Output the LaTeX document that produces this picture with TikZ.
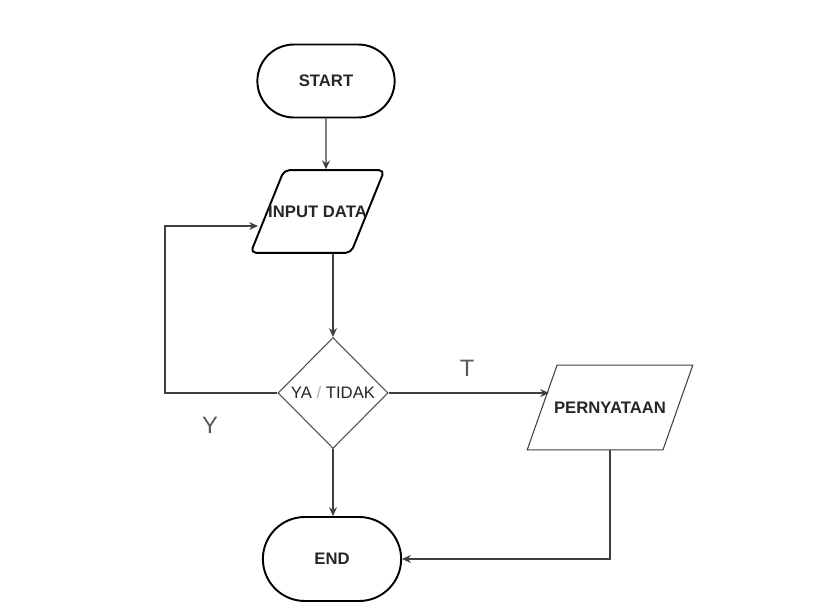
\documentclass[tikz,border=0pt]{standalone}
\usepackage{fontspec}
\setmainfont{Liberation Sans}
\usetikzlibrary{shapes.geometric,shapes.misc,arrows.meta}
\begin{document}
\begin{tikzpicture}[x=0.02cm,y=-0.02cm]
    \tikzset{>={Stealth[length=5pt,width=4.5pt]},
      teks/.style={text=black!85,font=\fontsize{9.5}{11}\selectfont},
      terminal/.style={rounded rectangle,draw,line width=1.1pt,teks,font=\fontsize{9.5}{11}\selectfont\bfseries},
      dataio/.style={trapezium,trapezium left angle=68,trapezium right angle=112,
        trapezium stretches body,text height=7pt,text depth=0pt,teks,font=\fontsize{9.5}{11}\selectfont\bfseries},
      keputusan/.style={diamond,draw=black!70,line width=0.6pt,inner sep=0pt,minimum width=2.2cm,minimum height=2.22cm},
      panah/.style={->,draw=black!75,line width=0.7pt},
      cabang/.style={text=black!65,font=\fontsize{13.5}{15}\selectfont}};
    \useasboundingbox[fill=white] (0,0) rectangle (820,615);
    \node[terminal,minimum width=2.98cm,minimum height=1.46cm] (mulai) at (326,81) {START};
    \node[dataio,draw,line width=1.1pt,rounded corners=3pt,inner xsep=-9pt,inner ysep=20pt] (input) at (317.5,211.5) {INPUT DATA};
    \node[keputusan] (cek) at (333,393) {};
    \node[teks] (cekteks) at (cek) {YA {\color{black!30}/} TIDAK};
    \node[dataio,draw=black!75,line width=0.6pt,trapezium left angle=70.6,trapezium right angle=109.4,inner xsep=-1.7pt,inner ysep=20.6pt] (pern) at (610,407.5) {PERNYATAAN};
    \node[terminal,minimum width=3cm,minimum height=1.68cm] (akhir) at (332,559) {END};
    \node[cabang] (ya) at (210,425) {Y};
    \node[cabang] (tidak) at (467,368) {T};
    \coordinate (kiri) at (165,226);
    \coordinate (masuk) at (258,226);
    \coordinate (kanan) at (549,393);
    \draw[panah] (mulai) -- (mulai |- input.north);
    \draw[panah] (input.south -| cek) -- (cek.north);
    \draw[panah] (cek.west) -| (kiri) -- (masuk);
    \draw[panah] (cek.east) -- (kanan);
    \draw[panah] (cek.south) -- (akhir.north -| cek);
    \draw[panah] (pern.south) |- (akhir.east);
  \end{tikzpicture}
\end{document}
